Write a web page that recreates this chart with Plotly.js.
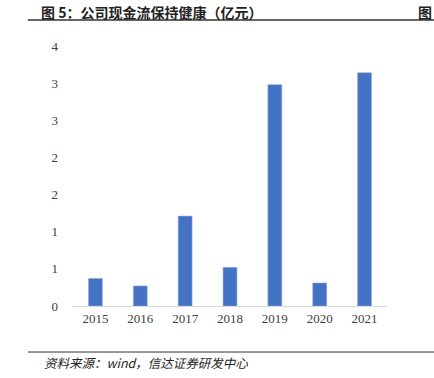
<!DOCTYPE html>
<html><head><meta charset="utf-8">
<script src="https://cdn.plot.ly/plotly-3.0.1.min.js"></script>
<style>html,body{margin:0;padding:0;background:#fff;}#chart{width:434px;height:378px;}</style>
</head><body><div id="chart"></div>
<script>
var years = ['2015','2016','2017','2018','2019','2020','2021'];
var cashflow = [0.37, 0.27, 1.21, 0.52, 2.98, 0.31, 3.14];
var yTickVals = [0, 0.5, 1, 1.5, 2, 2.5, 3, 3.5];
var yTickText = ['0','1','1','2','2','3','3','4'];

var trace = {
  type: 'bar', x: years, y: cashflow,
  marker: {color: '#4472C4', line: {color: '#8faadc', width: 0.6}},
  hoverinfo: 'none'
};
var serif = 'Liberation Serif, Times New Roman, serif';
var layout = {
  width: 434, height: 378,
  margin: {l: 73, r: 47, t: 46, b: 72},
  paper_bgcolor: '#fff', plot_bgcolor: '#fff',
  bargap: 0.69,
  showlegend: false,
  xaxis: {type: 'category', showgrid: false, showline: true, linecolor: '#d9d9d9', linewidth: 1,
    ticks: '', tickfont: {family: serif, size: 13, color: '#404040'}, fixedrange: true},
  yaxis: {range: [0, 3.5], tickvals: yTickVals, ticktext: yTickText, showgrid: false,
    showline: false, zeroline: false, ticks: '', ticklabelstandoff: 14,
    tickfont: {family: serif, size: 13, color: '#404040'}, fixedrange: true},
  shapes: [
    {type: 'line', xref: 'paper', yref: 'paper', x0: -0.144, x1: 1.2, y0: 1.1, y1: 1.1,
     line: {color: '#333', width: 1.5}},
    {type: 'line', xref: 'paper', yref: 'paper', x0: -0.144, x1: 1.2, y0: -0.177, y1: -0.177,
     line: {color: '#333', width: 1}}
  ],
  annotations: [
    {text: '<b>图 5：公司现金流保持健康（亿元）</b>', xref: 'paper', yref: 'paper',
     x: -0.108, y: 1.131, xanchor: 'left', yanchor: 'middle', showarrow: false,
     font: {family: 'Noto Sans CJK SC', size: 14, color: '#222'}},
    {text: '<b>图</b>', xref: 'paper', yref: 'paper',
     x: 1.149, y: 1.131, xanchor: 'right', yanchor: 'middle', showarrow: false,
     font: {family: 'Noto Sans CJK SC', size: 14, color: '#222'}},
    {text: '<i>资料来源：wind，信达证券研发中心</i>', xref: 'paper', yref: 'paper',
     x: -0.098, y: -0.216, xanchor: 'left', yanchor: 'middle', showarrow: false,
     font: {family: 'Noto Sans CJK SC', size: 12.5, color: '#222'}}
  ]
};
Plotly.newPlot('chart', [trace], layout, {displayModeBar: false, staticPlot: true});
</script></body></html>
